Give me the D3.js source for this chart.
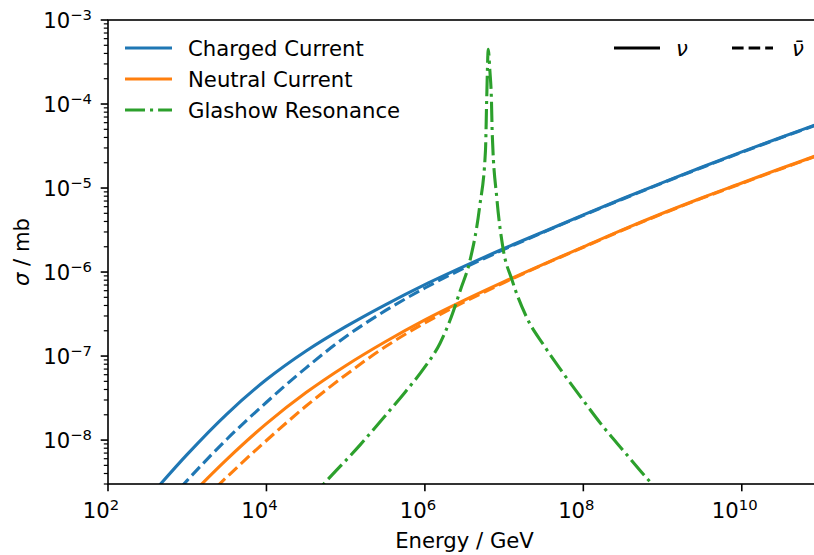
<!DOCTYPE html>
<html>
<head>
<meta charset="utf-8">
<script src="https://cdn.jsdelivr.net/npm/d3@7"></script>
<style>
  body { margin: 0; background: #fff; }
  svg { display: block; font-family: "DejaVu Sans", sans-serif; }
</style>
</head>
<body>
<div id="chart-area"></div>
<script>
// energies and cross sections are stored as log10 values
const energyLog = [2.5, 3.0, 3.5, 4.0, 4.5, 5.0, 5.5, 6.0, 6.5, 7.0, 7.5, 8.0, 8.5, 9.0, 9.5, 10.0, 10.5, 11.0];
const ccNu    = [-8.70, -8.17, -7.69, -7.28, -6.94, -6.65, -6.39, -6.15, -5.93, -5.72, -5.52, -5.32, -5.125, -4.935, -4.75, -4.57, -4.395, -4.225];
const ccNubar = [-9.01, -8.48, -7.99, -7.55, -7.14, -6.77, -6.46, -6.19, -5.95, -5.73, -5.525, -5.325, -5.13, -4.94, -4.755, -4.575, -4.40, -4.23];
const ncNu    = [-9.20, -8.70, -8.23, -7.805, -7.435, -7.115, -6.83, -6.57, -6.335, -6.115, -5.905, -5.70, -5.495, -5.30, -5.115, -4.94, -4.765, -4.595];
const ncNubar = [-9.41, -8.91, -8.44, -8.005, -7.595, -7.225, -6.89, -6.605, -6.355, -6.125, -5.91, -5.705, -5.50, -5.305, -5.12, -4.945, -4.77, -4.60];

const glashowEnergyLog = [4.5, 4.726, 5.18, 5.5, 5.75, 6.0, 6.19, 6.315, 6.45, 6.57, 6.69, 6.765, 6.78, 6.80, 6.82, 6.84, 6.85, 6.91, 6.985, 7.10, 7.29, 7.5, 7.75, 8.0, 8.25, 8.5, 8.865, 9.1];
const glashowSigma     = [-8.76, -8.52, -8.06, -7.71, -7.43, -7.13, -6.85, -6.58, -6.21, -5.86, -5.23, -4.55, -3.95, -3.35, -3.60, -3.95, -4.35, -5.14, -5.71, -6.095, -6.55, -6.87, -7.21, -7.53, -7.84, -8.12, -8.52, -8.75];

const xTickExps = [2, 4, 6, 8, 10];
const yTickExps = [-3, -4, -5, -6, -7, -8];

const legendLabels = ['Charged Current', 'Neutral Current', 'Glashow Resonance'];

document.addEventListener('DOMContentLoaded', function() {
    const colors = { cc: '#1f77b4', nc: '#ff7f0e', gr: '#2ca02c' };
    const lw = 3.1;
    const dashed = '11.6,5';
    const dashdot = '20,5,3.1,5';
    const fs = 21.2;
    const fsSup = 14.8;

    const W = 814, H = 555;
    const margin = { top: 20, left: 108 };
    const width = 713, height = 464;

    const svg = d3.select('#chart-area')
        .append('svg')
        .attr('width', W)
        .attr('height', H);

    const g = svg.append('g')
        .attr('transform', `translate(${margin.left},${margin.top})`);

    const x = d3.scaleLog().domain([1e2, 1e11]).range([0, width]);
    const y = d3.scaleLog().domain([3e-9, 1e-3]).range([height, 0]);

    g.append('clipPath').attr('id', 'plot-clip')
        .append('rect').attr('width', width).attr('height', height);

    const smoothLine = d3.line()
        .x(d => x(Math.pow(10, d[0])))
        .y(d => y(Math.pow(10, d[1])))
        .curve(d3.curveCatmullRom.alpha(0.5));

    const peakLine = d3.line()
        .x(d => x(Math.pow(10, d[0])))
        .y(d => y(Math.pow(10, d[1])))
        .curve(d3.curveMonotoneX);

    const series = [
        { vals: ccNu, color: colors.cc, dash: null },
        { vals: ccNubar, color: colors.cc, dash: dashed },
        { vals: ncNu, color: colors.nc, dash: null },
        { vals: ncNubar, color: colors.nc, dash: dashed }
    ];

    const plot = g.append('g').attr('clip-path', 'url(#plot-clip)');

    series.forEach(s => {
        plot.append('path')
            .datum(energyLog.map((e, i) => [e, s.vals[i]]))
            .attr('d', smoothLine)
            .attr('fill', 'none')
            .attr('stroke', s.color)
            .attr('stroke-width', lw)
            .attr('stroke-dasharray', s.dash);
    });

    plot.append('path')
        .datum(glashowEnergyLog.map((e, i) => [e, glashowSigma[i]]))
        .attr('d', peakLine)
        .attr('fill', 'none')
        .attr('stroke', colors.gr)
        .attr('stroke-width', lw)
        .attr('stroke-dasharray', dashdot);

    // frame
    g.append('rect')
        .attr('width', width)
        .attr('height', height)
        .attr('fill', 'none')
        .attr('stroke', '#000')
        .attr('stroke-width', 1.6);

    // x axis
    const xAxis = g.append('g').attr('transform', `translate(0,${height})`);
    xTickExps.forEach(k => {
        const px = x(Math.pow(10, k));
        xAxis.append('line')
            .attr('x1', px).attr('x2', px)
            .attr('y1', 0).attr('y2', 7.3)
            .attr('stroke', '#000').attr('stroke-width', 1.6);
        const t = xAxis.append('text')
            .attr('x', px - 7)
            .attr('y', 34)
            .attr('text-anchor', 'middle')
            .attr('font-size', fs);
        t.append('tspan').text('10');
        t.append('tspan').attr('dy', -8).attr('font-size', fsSup).text(k);
    });

    // y axis: minor ticks at 2..9 of each decade
    const yAxis = g.append('g');
    y.ticks().forEach(v => {
        const m = Math.round(v / Math.pow(10, Math.floor(Math.log10(v) + 1e-9)));
        if (m === 1) return;
        yAxis.append('line')
            .attr('x1', -4.2).attr('x2', 0)
            .attr('y1', y(v)).attr('y2', y(v))
            .attr('stroke', '#000').attr('stroke-width', 1.2);
    });
    yTickExps.forEach(k => {
        const py = y(Math.pow(10, k));
        yAxis.append('line')
            .attr('x1', -7.3).attr('x2', 0)
            .attr('y1', py).attr('y2', py)
            .attr('stroke', '#000').attr('stroke-width', 1.6);
        const t = yAxis.append('text')
            .attr('x', -16)
            .attr('y', py + 7.5)
            .attr('text-anchor', 'end')
            .attr('font-size', fs);
        t.append('tspan').text('10');
        t.append('tspan').attr('dy', -8).attr('font-size', fsSup).text('\u2212' + Math.abs(k));
    });

    // axis labels
    svg.append('text')
        .attr('x', margin.left + width / 2)
        .attr('y', 548)
        .attr('text-anchor', 'middle')
        .attr('font-size', fs)
        .text('Energy / GeV');

    const yl = svg.append('text')
        .attr('transform', `translate(29,${margin.top + height / 2}) rotate(-90)`)
        .attr('text-anchor', 'middle')
        .attr('font-size', fs);
    yl.append('tspan').attr('font-style', 'italic').text('σ');
    yl.append('tspan').text(' / mb');

    // legend (left)
    const legStyles = [
        { color: colors.cc, dash: null },
        { color: colors.nc, dash: null },
        { color: colors.gr, dash: dashdot }
    ];
    legendLabels.forEach((lab, i) => {
        const ly = 48 + i * 31;
        svg.append('line')
            .attr('x1', 125).attr('x2', 172)
            .attr('y1', ly).attr('y2', ly)
            .attr('stroke', legStyles[i].color)
            .attr('stroke-width', lw)
            .attr('stroke-dasharray', legStyles[i].dash);
        svg.append('text')
            .attr('x', 188)
            .attr('y', ly + 7.5)
            .attr('font-size', fs)
            .text(lab);
    });

    // legend (right): neutrino / antineutrino line styles
    const nuLegend = [
        { x1: 614, x2: 660, tx: 676, dash: null, label: 'ν' },
        { x1: 732, x2: 773, tx: 792, dash: dashed, label: 'ν\u0304' }
    ];
    nuLegend.forEach(d => {
        svg.append('line')
            .attr('x1', d.x1).attr('x2', d.x2)
            .attr('y1', 48).attr('y2', 48)
            .attr('stroke', '#000')
            .attr('stroke-width', lw)
            .attr('stroke-dasharray', d.dash);
        svg.append('text')
            .attr('x', d.tx)
            .attr('y', 55.5)
            .attr('font-size', fs)
            .attr('font-style', 'italic')
            .text(d.label);
    });
});
</script>
</body>
</html>
